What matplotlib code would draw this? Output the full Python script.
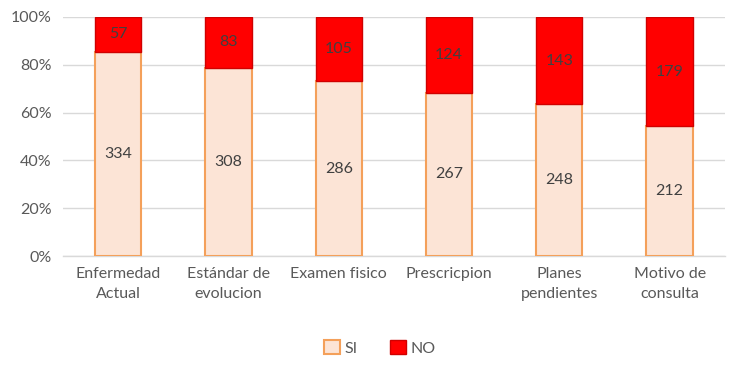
import matplotlib.pyplot as plt
import numpy as np

categories = ["Enfermedad\nActual", "Estándar de\nevolucion", "Examen fisico",
              "Prescricpion", "Planes\npendientes", "Motivo de\nconsulta"]
si_values = [334, 308, 286, 267, 248, 212]
no_values = [57, 83, 105, 124, 143, 179]

plt.rcParams["font.family"] = ["Lato", "DejaVu Sans"]
text_color = "#595959"

fig = plt.figure(figsize=(7.35, 3.69), dpi=100)
ax = fig.add_axes([0.0857, 0.306, 0.9003, 0.648])

si = np.array(si_values, dtype=float)
no = np.array(no_values, dtype=float)
total = si + no
si_pct = si / total * 100
no_pct = no / total * 100
x = np.arange(len(categories))
width = 0.42

ax.bar(x, si_pct, width, color="#FCE4D6", edgecolor="#F4A05A", linewidth=1.5,
       label="SI", zorder=3)
ax.bar(x, no_pct, width, bottom=si_pct, color="#FF0000", edgecolor="#D00000",
       linewidth=1.0, label="NO", zorder=3)

for xi, s, n, sp, npct in zip(x, si_values, no_values, si_pct, no_pct):
    ax.text(xi, sp / 2, str(s), ha="center", va="center", fontsize=11.5,
            color="#404040", zorder=4)
    ax.text(xi, sp + npct / 2, str(n), ha="center", va="center", fontsize=11.5,
            color="#404040", zorder=4)

ax.set_xlim(-0.5, len(categories) - 0.5)
ax.set_ylim(0, 100)
ax.set_yticks(np.arange(0, 101, 20))
ax.set_yticklabels([f"{v}%" for v in range(0, 101, 20)])
ax.set_xticks(x)
ax.set_xticklabels(categories, linespacing=1.55)
ax.tick_params(axis="both", length=0, labelsize=11.5, colors=text_color)
ax.tick_params(axis="x", pad=8)
ax.tick_params(axis="y", pad=8)
ax.grid(axis="y", color="#D9D9D9", linewidth=1, zorder=0)
for side in ["top", "right", "left"]:
    ax.spines[side].set_visible(False)
ax.spines["bottom"].set_color("#D9D9D9")
ax.spines["bottom"].set_linewidth(1)

fig.legend(loc="center", bbox_to_anchor=(0.517, 0.057), ncol=2, frameon=False,
           fontsize=11.5, labelcolor=text_color, handlelength=1.0,
           handleheight=1.0, columnspacing=2.0, handletextpad=0.3)

fig.savefig("out.png", dpi=100)
